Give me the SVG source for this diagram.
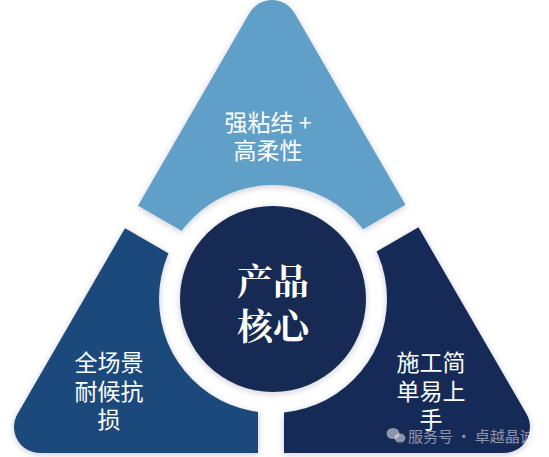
<svg xmlns="http://www.w3.org/2000/svg" width="549" height="457" viewBox="0 0 549 457">
  <style>
    .lbl { font-family: "Noto Sans CJK SC", "Noto Sans", sans-serif; font-size: 23px; fill: #ffffff; text-anchor: middle; }
    .core { font-family: "Noto Serif CJK SC", "Noto Sans CJK SC", serif; font-size: 36px; font-weight: 700; fill: #ffffff; text-anchor: middle; }
    .wm { font-family: "Noto Sans CJK SC", "Noto Sans", sans-serif; font-size: 15px; fill: #ffffff; fill-opacity: 0.5; }
  </style>
  <defs>
    <clipPath id="tri">
      <path d="M249.5,13 A26,26 0 0 1 294.5,13 L526.5,414 A26,26 0 0 1 504,453 L40,453 A26,26 0 0 1 17.5,414 Z"/>
    </clipPath>
    <mask id="gaps" maskUnits="userSpaceOnUse" x="-50" y="-50" width="650" height="560">
      <rect x="-50" y="-50" width="650" height="560" fill="#fff"/>
      <g stroke="#000" stroke-width="26">
        <line x1="271" y1="297.5" x2="-335" y2="-52.5"/>
        <line x1="271" y1="297.5" x2="877" y2="-52.5"/>
        <line x1="271" y1="297.5" x2="271" y2="600"/>
      </g>
      <circle cx="273" cy="299" r="114" fill="#000"/>
    </mask>
    <filter id="sh" x="-20%" y="-20%" width="140%" height="140%">
      <feDropShadow dx="0" dy="1.5" stdDeviation="3" flood-color="#1a2a40" flood-opacity="0.22"/>
    </filter>
  </defs>
  <rect width="549" height="457" fill="#ffffff"/>

  <g id="piece-top">
    <g filter="url(#sh)">
      <polygon points="271,297.5 -335,-52.5 -335,-200 877,-200 877,-52.5" fill="#619fc8" clip-path="url(#tri)" mask="url(#gaps)"/>
    </g>
    <text class="lbl" x="268" y="131">强粘结 +</text>
    <text class="lbl" x="268" y="159">高柔性</text>
  </g>

  <g id="piece-left">
    <g filter="url(#sh)">
      <polygon points="271,297.5 -335,-52.5 -335,600 271,600" fill="#1b4a7b" clip-path="url(#tri)" mask="url(#gaps)"/>
    </g>
    <text class="lbl" x="109" y="371">全场景</text>
    <text class="lbl" x="109" y="400">耐候抗</text>
    <text class="lbl" x="109" y="428">损</text>
  </g>

  <g id="piece-right">
    <g filter="url(#sh)">
      <polygon points="271,297.5 877,-52.5 877,600 271,600" fill="#152c58" clip-path="url(#tri)" mask="url(#gaps)"/>
    </g>
    <text class="lbl" x="431" y="371">施工简</text>
    <text class="lbl" x="431" y="400">单易上</text>
    <text class="lbl" x="431" y="428">手</text>
  </g>

  <g id="core">
    <circle cx="273" cy="299" r="93" fill="#132a53" filter="url(#sh)"/>
    <text class="core" x="273" y="295">产品</text>
    <text class="core" x="273" y="340">核心</text>
  </g>

  <g id="watermark" fill="#ffffff" fill-opacity="0.5">
    <ellipse cx="393" cy="433.5" rx="6.5" ry="5.5"/>
    <ellipse cx="400" cy="438" rx="5.5" ry="4.5"/>
    <text class="wm" x="408" y="442">服务号 · 卓越晶诚</text>
  </g>
</svg>
